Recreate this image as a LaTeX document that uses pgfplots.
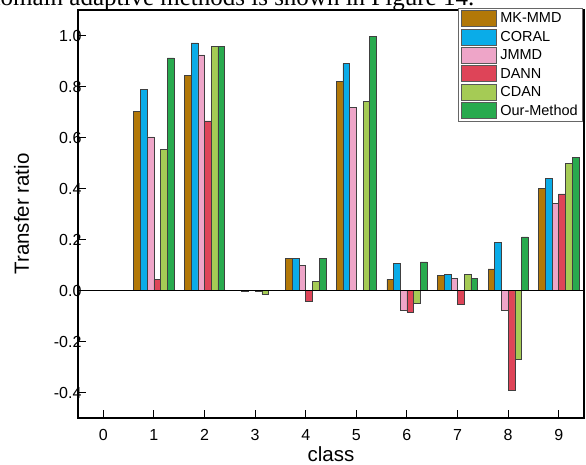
\documentclass[border=0pt]{standalone}
\usepackage{fontspec}
\setmainfont{Liberation Sans}
\newfontfamily\seriffont{Liberation Serif}
\usepackage{pgfplots}
\usepackage{pgfplotstable}
\pgfplotsset{compat=1.18}

\definecolor{cMK}{RGB}{178,120,8}
\definecolor{cCORAL}{RGB}{10,172,232}
\definecolor{cJMMD}{RGB}{238,165,200}
\definecolor{cDANN}{RGB}{222,68,88}
\definecolor{cCDAN}{RGB}{165,203,85}
\definecolor{cOurs}{RGB}{40,170,78}

\pgfplotstableread{
cls MK CORAL JMMD DANN CDAN Ours
1 0.702 0.789 0.602 0.042 0.554 0.912
2 0.845 0.971 0.924 0.665 0.957 0.957
3 0 -0.005 0 -0.004 -0.015 0
4 0.127 0.127 0.098 -0.044 0.035 0.127
5 0.820 0.890 0.717 0 0.740 0.996
6 0.044 0.107 -0.079 -0.085 -0.049 0.112
7 0.058 0.063 0.049 -0.054 0.063 0.049
8 0.085 0.190 -0.079 -0.391 -0.268 0.210
9 0.399 0.439 0.340 0.379 0.498 0.523
}\datatable

\begin{document}
\begin{tikzpicture}
\begin{axis}[
  scale only axis,
  width=506pt, height=408pt,
  xmin=-0.5, xmax=9.5,
  ymin=-0.5, ymax=1.1,
  ybar=0pt, bar width=6.7pt,
  xtick={0,1,2,3,4,5,6,7,8,9},
  ytick={-0.4,-0.2,0,0.2,0.4,0.6,0.8,1.0},
  yticklabels={-0.4,-0.2,0.0,0.2,0.4,0.6,0.8,1.0},
  tick align=inside,
  xtick pos=bottom, ytick pos=left,
  major tick length=7.5pt,
  every tick/.style={black, line width=1pt},
  axis line style={black, line width=1.1pt},
  tick label style={font=\fontsize{16}{18}\selectfont},
  yticklabel style={xshift=7pt},
  xticklabel style={yshift=-8pt},
  /pgf/number format/assume math mode=true,
  xlabel={class},
  ylabel={Transfer ratio},
  label style={font=\fontsize{20.5}{23}\selectfont},
  xlabel style={yshift=1pt},
  ylabel style={yshift=18pt},
  legend style={at={(1,1)}, anchor=north east, yshift=2pt, xshift=-1pt,
    draw=black!60, line width=0.6pt, inner xsep=3pt, inner ysep=2pt,
    font=\fontsize{14.5}{16}\selectfont, row sep=1.8pt,
    /tikz/every even column/.append style={column sep=0pt},
    /tikz/every odd column/.append style={column sep=1.5pt}},
  legend cell align=left,
  legend image code/.code={\draw[#1, draw=black!65, line width=0.6pt] (0pt,-8pt) rectangle (35pt,8pt);},
  every axis plot/.append style={draw=black!75, line width=0.6pt},
]
\addplot[fill=cMK] table[x=cls, y=MK] {\datatable};
\addplot[fill=cCORAL] table[x=cls, y=CORAL] {\datatable};
\addplot[fill=cJMMD] table[x=cls, y=JMMD] {\datatable};
\addplot[fill=cDANN] table[x=cls, y=DANN] {\datatable};
\addplot[fill=cCDAN] table[x=cls, y=CDAN] {\datatable};
\addplot[fill=cOurs] table[x=cls, y=Ours] {\datatable};
\legend{MK-MMD,CORAL,JMMD,DANN,CDAN,Our-Method}
\draw[black, line width=1pt] (axis cs:-0.5,0) -- (axis cs:9.5,0);
\end{axis}
\node[anchor=base west, inner sep=0pt, font=\seriffont\fontsize{25}{28}\selectfont]
  at ([xshift=-90pt, yshift=4pt]current axis.north west) {domain adaptive methods is shown in Figure 14.};
\pgfresetboundingbox
\useasboundingbox ([xshift=-78pt, yshift=-47pt]current axis.south west) rectangle ([xshift=2pt, yshift=10pt]current axis.north east);
\end{tikzpicture}
\end{document}
